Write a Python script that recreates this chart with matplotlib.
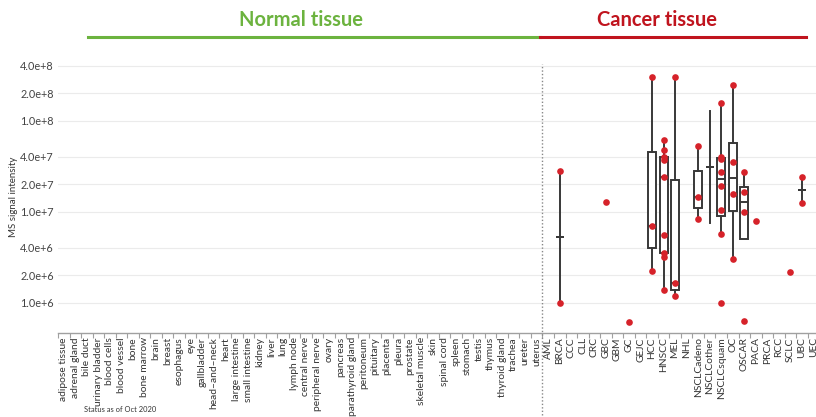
"""
MS signal intensity per tissue: normal tissues (no detections) vs cancer
tissues (box per entity, whiskers via Tukey rule computed in log10 space).
"""
import numpy as np
import matplotlib
matplotlib.use("Agg")
import matplotlib.pyplot as plt
from matplotlib import cbook
from matplotlib.lines import Line2D
from matplotlib.ticker import FixedLocator, FixedFormatter

OUT = "out.png"

NORMAL_TISSUES = [
    "adipose tissue", "adrenal gland", "bile duct", "urinary bladder", "blood cells",
    "blood vessel", "bone", "bone marrow", "brain", "breast", "esophagus", "eye",
    "gallbladder", "head\u2013and\u2013neck", "heart", "large intestine", "small intestine",
    "kidney", "liver", "lung", "lymph node", "central nerve", "peripheral nerve", "ovary",
    "pancreas", "parathyroid gland", "peritoneum", "pituitary", "placenta", "pleura",
    "prostate", "skeletal muscle", "skin", "spinal cord", "spleen", "stomach", "testis",
    "thymus", "thyroid gland", "trachea", "ureter", "uterus",
]
CANCER_TISSUES = [
    "AML", "BRCA", "CCC", "CLL", "CRC", "GBC", "GBM", "GC", "GEJC", "HCC", "HNSCC",
    "MEL", "NHL", "NSCLCadeno", "NSCLCother", "NSCLCsquam", "OC", "OSCAR", "PACA",
    "PRCA", "RCC", "SCLC", "UBC", "UEC",
]

# per-sample MS signal intensities
BRCA = [1.0e6, 2.8e7]
GBC = [1.28e7]
GC = [6.2e5]
HCC = [2.25e6, 7.0e6, 3.0e8]
HNSCC = [1.38e6, 3.2e6, 3.5e6, 5.6e6, 2.4e7, 3.7e7, 3.96e7, 4.8e7, 6.1e7]
MEL = [1.19e6, 1.63e6, 3.0e8]
NSCLC_ADENO = [8.3e6, 1.45e7, 5.3e7]
NSCLC_OTHER = [7.6e6, 1.29e8]
NSCLC_SQUAM = [0.98e6, 5.7e6, 1.05e7, 1.9e7, 2.7e7, 3.8e7, 4.0e7, 1.58e8]
OC = [3.0e6, 1.55e7, 3.5e7, 2.47e8]
OSCAR = [6.3e5, 1.0e7, 1.65e7, 2.7e7]
PACA = [8.0e6]
SCLC = [2.2e6]
UBC = [1.26e7, 2.4e7]

samples = {
    "BRCA": BRCA, "GBC": GBC, "GC": GC, "HCC": HCC, "HNSCC": HNSCC, "MEL": MEL,
    "NSCLCadeno": NSCLC_ADENO, "NSCLCother": NSCLC_OTHER, "NSCLCsquam": NSCLC_SQUAM,
    "OC": OC, "OSCAR": OSCAR, "PACA": PACA, "SCLC": SCLC, "UBC": UBC,
}
NO_DOTS = {"NSCLCother"}  # individual samples not shown in the original

Y_TICKS = [1e6, 2e6, 4e6, 1e7, 2e7, 4e7, 1e8, 2e8, 4e8]
Y_TICK_LABELS = ["1.0e+6", "2.0e+6", "4.0e+6", "1.0e+7", "2.0e+7", "4.0e+7",
                 "1.0e+8", "2.0e+8", "4.0e+8"]

GREEN = "#6cb33f"
RED = "#c0141e"
DOT_RED = "#d6222a"
LINE = "#383838"

plt.rcParams["font.family"] = ["Lato", "DejaVu Sans"]

categories = NORMAL_TISSUES + CANCER_TISSUES
W, H = 816, 417
fig = plt.figure(figsize=(W / 100, H / 100), dpi=100)
ax = fig.add_axes([58 / W, 1 - 333 / H, 761.3 / W, 273 / H])

ax.set_yscale("log")
ax.set_ylim(10 ** 5.667, 10 ** 8.667)
ax.set_xlim(-0.5, len(categories) - 0.5)

# --- boxes, stats in log space ---
stats, positions = [], []
for name, vals in samples.items():
    if len(vals) < 2:
        continue
    lv = np.log10(vals)
    s = cbook.boxplot_stats(lv, whis=1.5)[0]
    if len(vals) == 2:
        s["q1"] = s["q3"] = s["med"]
        s["whislo"], s["whishi"] = lv.min(), lv.max()
    for k in ("med", "q1", "q3", "whislo", "whishi"):
        s[k] = 10 ** s[k]
    s["fliers"] = []
    stats.append(s)
    positions.append(categories.index(name))

ax.bxp(stats, positions=positions, widths=0.7, showfliers=False, showcaps=False,
       patch_artist=True,
       boxprops=dict(facecolor="white", edgecolor=LINE, linewidth=1.4),
       whiskerprops=dict(color=LINE, linewidth=1.4),
       medianprops=dict(color=LINE, linewidth=1.4),
       zorder=3)

for name, vals in samples.items():
    if name in NO_DOTS:
        continue
    x = [categories.index(name)] * len(vals)
    ax.plot(x, vals, "o", color=DOT_RED, markersize=4.8, markeredgewidth=0, zorder=4)

# --- axes styling ---
for side in ("left", "top", "right"):
    ax.spines[side].set_visible(False)
ax.spines["bottom"].set_color("#a0a0a0")
ax.spines["bottom"].set_linewidth(1.0)

ax.yaxis.set_major_locator(FixedLocator(Y_TICKS))
ax.yaxis.set_major_formatter(FixedFormatter(Y_TICK_LABELS))
ax.yaxis.set_minor_locator(FixedLocator([]))
ax.tick_params(axis="y", length=0, pad=3, labelsize=7.8, labelcolor="#444444")
ax.yaxis.grid(True, color="#ebebeb", linewidth=0.8)
ax.set_axisbelow(True)
ax.set_ylabel("MS signal intensity", fontsize=7, color="#333333")
ax.yaxis.set_label_coords(-40 / 761.3, 0.5)

ax.set_xticks(range(len(categories)))
ax.set_xticklabels(categories, rotation=90, fontsize=7.4, color="#333333")
ax.set_xticks(np.arange(-0.5, len(categories), 1), minor=True)
ax.tick_params(axis="x", which="major", length=0, pad=3)
ax.tick_params(axis="x", which="minor", length=3.5, color="#a0a0a0", width=0.8)

# dotted divider between normal and cancer tissue
split = len(NORMAL_TISSUES) - 0.5
ax.plot([split, split], [-0.3, 0.985], transform=ax.get_xaxis_transform(),
        color="#888888", linestyle=(0, (1, 1.5)), linewidth=1.0, clip_on=False)

# group headers
fig.text(301 / W, 1 - 20 / H, "Normal tissue", color=GREEN, fontsize=14.5,
         fontweight="bold", ha="center", va="center")
fig.text(657 / W, 1 - 20 / H, "Cancer tissue", color=RED, fontsize=14.5,
         fontweight="bold", ha="center", va="center")
fig.add_artist(Line2D([88 / W, 540 / W], [1 - 37 / H] * 2, color=GREEN, linewidth=2.2))
fig.add_artist(Line2D([540 / W, 806 / W], [1 - 37 / H] * 2, color=RED, linewidth=2.2))

fig.text(84 / W, 1 - 410 / H, "Status as of Oct 2020", fontsize=5.4, color="#333333",
         ha="left", va="center")

fig.savefig(OUT, dpi=100)
